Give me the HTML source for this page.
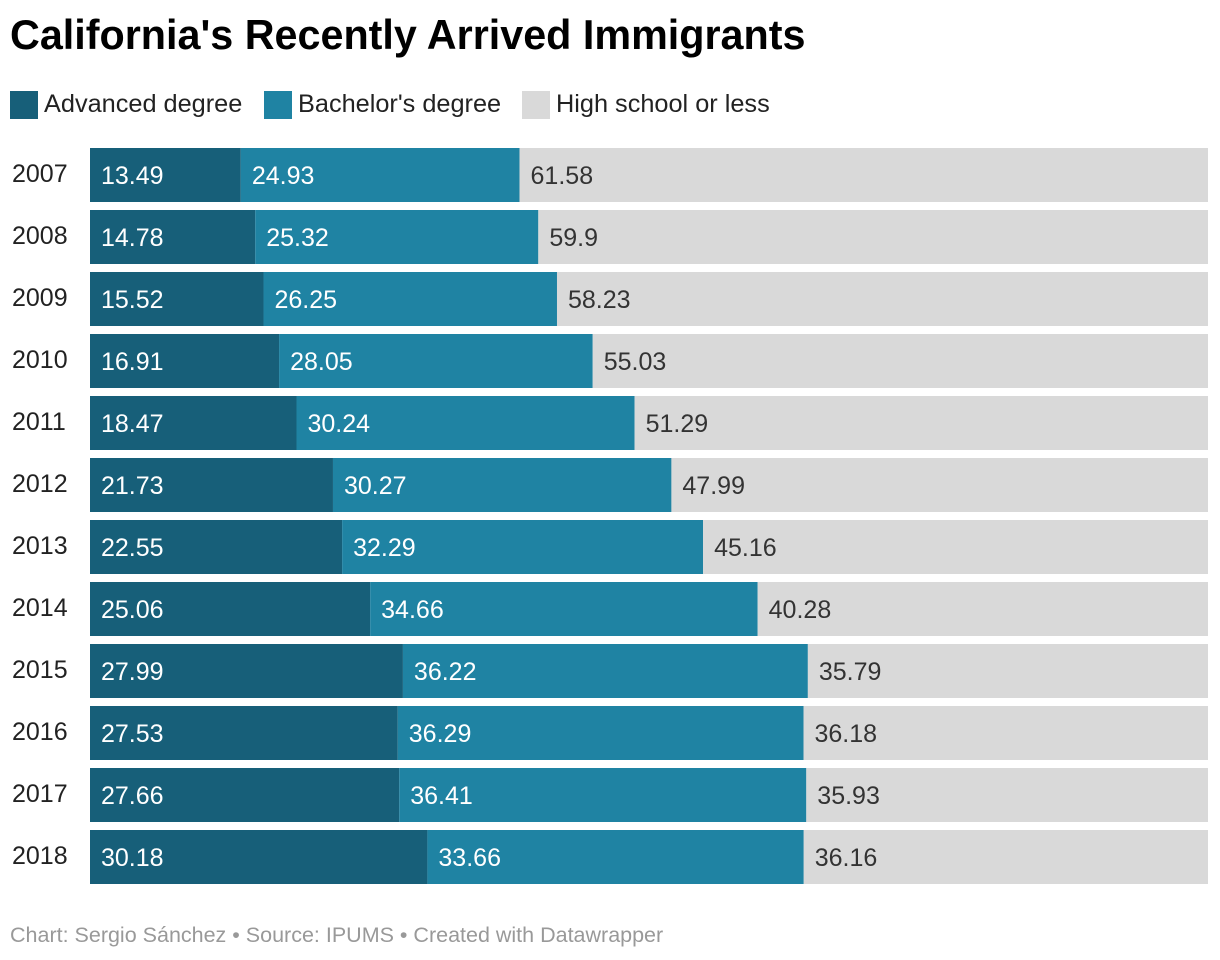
<!DOCTYPE html>
<html><head><meta charset="utf-8">
<style>
body{margin:0;width:1220px;height:960px;background:#fff;font-family:"Liberation Sans",Arial,sans-serif;overflow:hidden;position:relative}
.title{position:absolute;left:10px;top:12px;font-size:41.3px;font-weight:bold;color:#000;letter-spacing:0}
.leg{position:absolute;top:90px;font-size:25.3px;color:#222;display:flex;align-items:center}
.leg span.sw{display:inline-block;width:28px;height:28px;margin-right:6px}
.footer{position:absolute;left:10px;top:923px;font-size:21.5px;color:#999}
</style></head><body>
<div class="title">California's Recently Arrived Immigrants</div>
<div class="leg" style="left:10px"><span class="sw" style="background:#175f79"></span>Advanced degree</div>
<div class="leg" style="left:264px"><span class="sw" style="background:#1f83a3"></span>Bachelor's degree</div>
<div class="leg" style="left:522px"><span class="sw" style="background:#d9d9d9"></span>High school or less</div>
<svg id="chart" width="1220" height="960" style="position:absolute;left:0;top:0"></svg>
<div class="footer">Chart: Sergio Sánchez • Source: IPUMS • Created with Datawrapper</div>
<script>
const years=["2007","2008","2009","2010","2011","2012","2013","2014","2015","2016","2017","2018"];
const advanced=[13.49,14.78,15.52,16.91,18.47,21.73,22.55,25.06,27.99,27.53,27.66,30.18];
const bachelors=[24.93,25.32,26.25,28.05,30.24,30.27,32.29,34.66,36.22,36.29,36.41,33.66];
const highschool=[61.58,59.9,58.23,55.03,51.29,47.99,45.16,40.28,35.79,36.18,35.93,36.16];
const svg=document.getElementById('chart');const NS='http://www.w3.org/2000/svg';
const x0=90,W=1118,top0=148,pitch=62,bh=54;
const series=[{v:advanced,c:'#175f79',t:'#fff',n:'advanced'},{v:bachelors,c:'#1f83a3',t:'#fff',n:'bachelors'},{v:highschool,c:'#d9d9d9',t:'#333',n:'high-school'}];
years.forEach((y,i)=>{
  const yTop=top0+i*pitch;
  const tot=advanced[i]+bachelors[i]+highschool[i];
  const lab=document.createElementNS(NS,'text');
  
  
  lab.setAttribute('x',12);lab.setAttribute('y',yTop+bh/2+7);lab.setAttribute('font-size','25');lab.setAttribute('fill','#222');lab.textContent=y;svg.appendChild(lab);
  let x=x0;
  series.forEach(s=>{
    const w=s.v[i]/tot*W;
    const r=document.createElementNS(NS,'rect');
    
    
    r.setAttribute('x',x);r.setAttribute('y',yTop);r.setAttribute('width',w);r.setAttribute('height',bh);r.setAttribute('fill',s.c);svg.appendChild(r);
    const t=document.createElementNS(NS,'text');
    
    
    t.setAttribute('x',x+11);t.setAttribute('y',yTop+bh/2+9);t.setAttribute('font-size','25');t.setAttribute('fill',s.t);t.textContent=s.v[i];svg.appendChild(t);
    x+=w;
  });
});
</script>
</body></html>
